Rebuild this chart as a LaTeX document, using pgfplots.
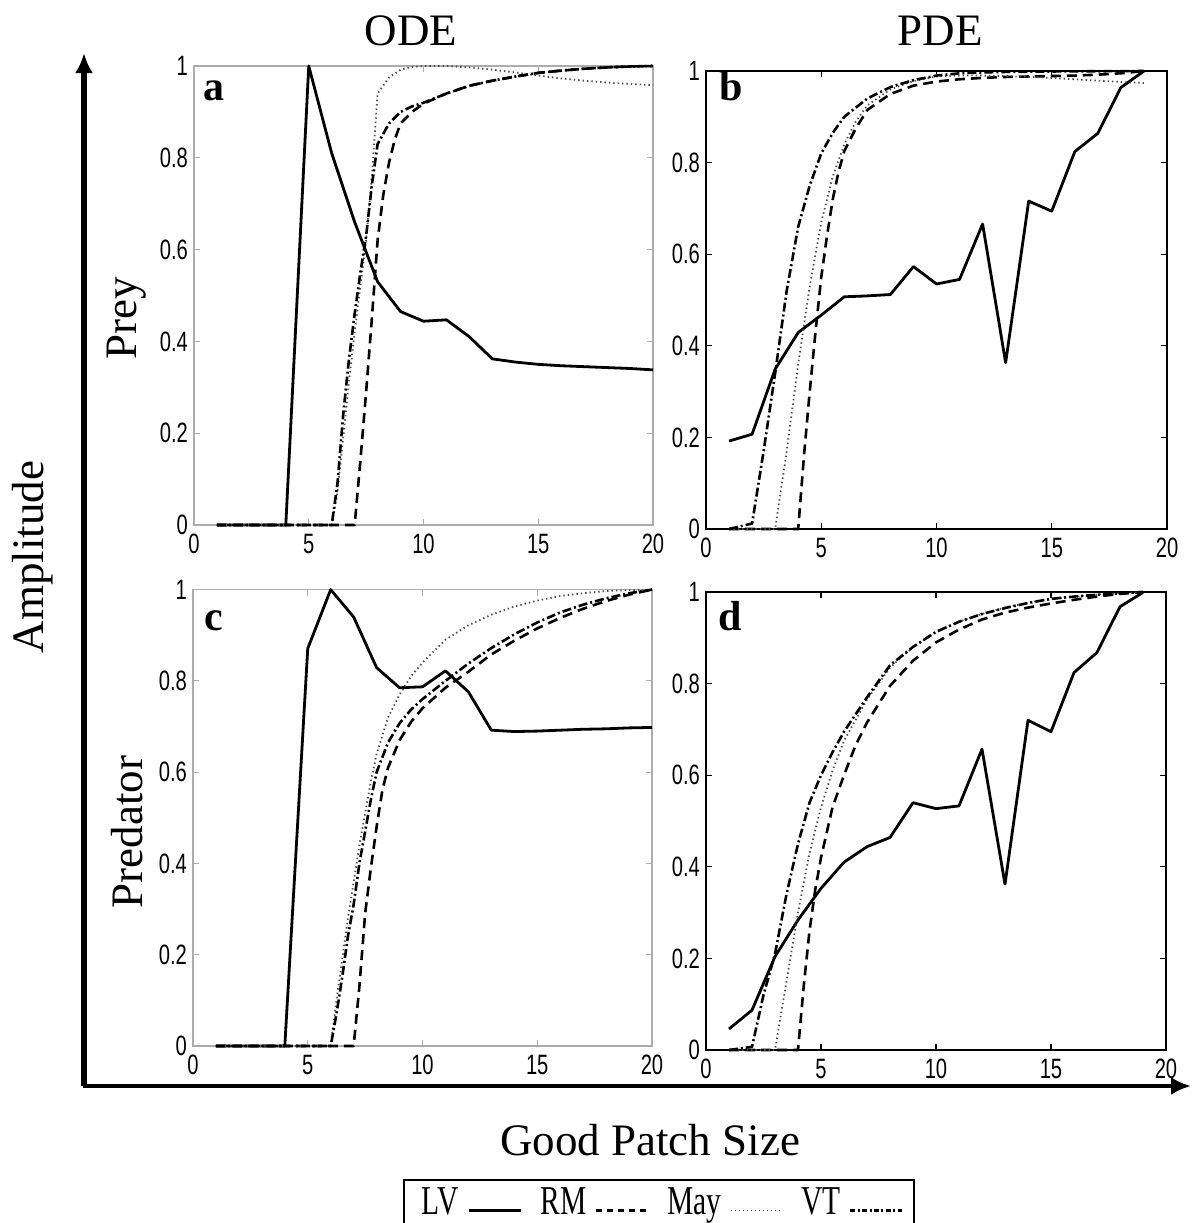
\documentclass[border=0pt]{standalone}
\usepackage{fontspec}
\setmainfont{Liberation Serif}
\newfontfamily\ticksfont[FakeStretch=0.72]{Liberation Sans}
\newfontfamily\legfont[FakeStretch=0.72]{Liberation Serif}
\usepackage{pgfplots}
\pgfplotsset{compat=1.18}
\usetikzlibrary{arrows.meta}

\pgfplotsset{
  panel/.style={
    scale only axis, xmin=0,xmax=20,ymin=0,ymax=1,
    xtick={0,5,10,15,20}, ytick={0,0.2,0.4,0.6,0.8,1},
    /pgf/number format/assume math mode=true,
    tick label style={font=\ticksfont\fontsize{14}{14}\selectfont},
    xticklabel style={yshift=-1pt},
    yticklabel style={xshift=0.5pt},
    major tick length=3pt,
    anchor=south west,
    clip=false,
    every axis plot/.append style={line join=round},
  },
  grayframe/.style={axis line style={draw=gray!65, line width=0.6pt}, every tick/.style={gray!65, line width=0.6pt}},
  blackframe/.style={axis line style={draw=black, line width=0.6pt}, every tick/.style={black, line width=0.6pt}},
  LV/.style={black, line width=1.4pt, solid},
  RM/.style={black, line width=1.3pt, dash pattern=on 5pt off 3pt},
  May/.style={gray!60!black, line width=0.9pt, dash pattern=on 0.7pt off 1.5pt},
  VT/.style={black, line width=1.3pt, dash pattern=on 4.5pt off 1.5pt on 1pt off 1.5pt},
}

\begin{document}
\begin{tikzpicture}
\begin{scope}[x=0.5pt,y=-0.5pt]
\useasboundingbox (0,0) rectangle (1192,1223);
\coordinate (A) at (194,525);
\coordinate (B) at (706,529);
\coordinate (C) at (193,1046);
\coordinate (D) at (706,1050);
\coordinate (L) at (659,1179);
\end{scope}

% ---------- panel a ----------
\begin{axis}[panel, grayframe, at={(A)}, width=229.5pt, height=229.5pt]
\addplot[LV] coordinates {(1,0)(2,0)(3,0)(4,0)(5,1)(6,0.81)(7,0.66)(8,0.53)(9,0.465)(10,0.444)(11,0.447)(12,0.41)(13,0.362)(14,0.355)(15,0.35)(16,0.347)(17,0.345)(18,0.343)(19,0.341)(20,0.338)};
\addplot[RM] coordinates {(1,0)(2,0)(3,0)(4,0)(5,0)(6,0)(7,0)(7.25,0.14)(7.5,0.29)(7.75,0.45)(8,0.62)(8.25,0.72)(8.5,0.79)(8.75,0.84)(9,0.875)(9.5,0.9)(10,0.918)(11,0.94)(12,0.957)(13,0.968)(14,0.977)(15,0.985)(16,0.99)(17,0.994)(18,0.997)(19,0.999)(20,1.0)};
\addplot[May] coordinates {(1,0)(2,0)(3,0)(4,0)(5,0)(6,0)(6.25,0.07)(6.5,0.19)(6.75,0.31)(7,0.42)(7.25,0.52)(7.5,0.62)(7.75,0.76)(8,0.94)(8.5,0.975)(9,0.992)(9.5,0.998)(10,1.0)(11,1.0)(12,0.997)(13,0.992)(14,0.986)(15,0.979)(16,0.973)(17,0.968)(18,0.964)(19,0.961)(20,0.958)};
\addplot[VT] coordinates {(1,0)(2,0)(3,0)(4,0)(5,0)(6,0)(6.25,0.09)(6.5,0.24)(6.75,0.36)(7,0.46)(7.25,0.55)(7.5,0.63)(7.75,0.74)(8,0.83)(8.5,0.875)(9,0.9)(9.5,0.912)(10,0.92)(11,0.94)(12,0.957)(13,0.968)(14,0.977)(15,0.985)(16,0.99)(17,0.994)(18,0.997)(19,0.999)(20,1.0)};
\end{axis}

% ---------- panel b ----------
\begin{axis}[panel, blackframe, at={(B)}, width=230.5pt, height=229pt]
\addplot[LV] coordinates {(1,0.192)(2,0.207)(3,0.349)(4,0.429)(5,0.467)(6,0.507)(7,0.509)(8,0.512)(9,0.573)(10,0.535)(11,0.545)(12,0.666)(13,0.363)(14,0.716)(15,0.694)(16,0.824)(17,0.864)(18,0.964)(19,1.0)};
\addplot[RM] coordinates {(1,0)(2,0)(3,0)(4,0)(4.25,0.16)(4.5,0.3)(4.75,0.43)(5,0.55)(5.25,0.64)(5.5,0.72)(5.75,0.78)(6,0.825)(6.5,0.875)(7,0.915)(8,0.95)(9,0.968)(10,0.977)(11,0.982)(12,0.985)(13,0.987)(14,0.988)(15,0.989)(16,0.99)(17,0.992)(18,0.995)(19,1.0)};
\addplot[May] coordinates {(1,0)(2,0)(3,0)(3.5,0.17)(4,0.36)(4.5,0.53)(5,0.67)(5.5,0.77)(6,0.84)(6.5,0.89)(7,0.925)(8,0.96)(9,0.978)(10,0.988)(11,0.99)(12,0.99)(13,0.989)(14,0.987)(15,0.985)(16,0.982)(17,0.979)(18,0.976)(19,0.974)};
\addplot[VT] coordinates {(1,0)(2,0.012)(2.5,0.17)(3,0.34)(3.5,0.52)(4,0.66)(4.5,0.75)(5,0.82)(5.5,0.865)(6,0.9)(7,0.94)(8,0.965)(9,0.98)(10,0.99)(11,0.995)(12,0.997)(13,0.998)(15,0.999)(19,1.0)};
\end{axis}

% ---------- panel c ----------
\begin{axis}[panel, grayframe, at={(C)}, width=229.5pt, height=228.2pt]
\addplot[LV] coordinates {(1,0)(2,0)(3,0)(4,0)(5,0.871)(6,1.0)(7,0.94)(8,0.829)(9,0.785)(10,0.787)(11,0.822)(12,0.776)(13,0.692)(14,0.689)(15,0.69)(16,0.692)(17,0.694)(18,0.695)(19,0.697)(20,0.698)};
\addplot[RM] coordinates {(1,0)(2,0)(3,0)(4,0)(5,0)(6,0)(7,0)(7.25,0.13)(7.5,0.29)(7.75,0.39)(8,0.48)(8.25,0.56)(8.5,0.61)(9,0.67)(9.5,0.71)(10,0.74)(11,0.785)(12,0.82)(13,0.858)(14,0.888)(15,0.915)(16,0.938)(17,0.958)(18,0.975)(19,0.989)(20,1.0)};
\addplot[May] coordinates {(1,0)(2,0)(3,0)(4,0)(5,0)(6,0)(6.25,0.1)(6.5,0.19)(6.75,0.28)(7,0.36)(7.25,0.44)(7.5,0.51)(7.75,0.58)(8,0.64)(8.5,0.72)(9,0.77)(9.5,0.81)(10,0.84)(11,0.89)(12,0.922)(13,0.945)(14,0.963)(15,0.976)(16,0.986)(17,0.992)(18,0.997)(19,0.999)(20,1.0)};
\addplot[VT] coordinates {(1,0)(2,0)(3,0)(4,0)(5,0)(6,0)(6.25,0.07)(6.5,0.15)(6.75,0.24)(7,0.31)(7.25,0.4)(7.5,0.47)(7.75,0.54)(8,0.6)(8.5,0.665)(9,0.707)(9.5,0.737)(10,0.76)(11,0.8)(12,0.838)(13,0.872)(14,0.902)(15,0.928)(16,0.95)(17,0.967)(18,0.981)(19,0.992)(20,1.0)};
\end{axis}

% ---------- panel d ----------
\begin{axis}[panel, blackframe, at={(D)}, width=230pt, height=229pt]
\addplot[LV] coordinates {(1,0.046)(2,0.087)(3,0.204)(4,0.284)(5,0.353)(6,0.41)(7,0.444)(8,0.464)(9,0.54)(10,0.527)(11,0.533)(12,0.657)(13,0.362)(14,0.72)(15,0.695)(16,0.824)(17,0.868)(18,0.968)(19,0.999)};
\addplot[RM] coordinates {(1,0)(2,0)(3,0)(4,0)(4.25,0.14)(4.5,0.26)(4.75,0.35)(5,0.42)(5.5,0.53)(6,0.6)(6.5,0.665)(7,0.715)(8,0.795)(9,0.85)(10,0.89)(11,0.918)(12,0.94)(13,0.955)(14,0.966)(15,0.975)(16,0.983)(17,0.99)(18,0.996)(19,1.0)};
\addplot[May] coordinates {(1,0)(2,0)(3,0)(3.5,0.15)(4,0.3)(4.5,0.43)(5,0.53)(5.5,0.61)(6,0.675)(7,0.765)(8,0.835)(9,0.88)(10,0.912)(11,0.935)(12,0.952)(13,0.966)(14,0.977)(15,0.985)(16,0.99)(17,0.994)(18,0.997)(19,1.0)};
\addplot[VT] coordinates {(1,0)(2,0.007)(2.5,0.12)(3,0.21)(3.5,0.34)(4,0.45)(4.5,0.54)(5,0.6)(5.5,0.65)(6,0.695)(7,0.77)(8,0.84)(9,0.88)(10,0.913)(11,0.935)(12,0.952)(13,0.965)(14,0.976)(15,0.985)(16,0.99)(17,0.994)(18,0.997)(19,1.0)};
\end{axis}

% ---------- legend (kept out of the bounding box, cut at the page edge) ----------
\begin{pgfinterruptboundingbox}
\begin{axis}[at={(L)}, anchor=center, hide axis, scale only axis, width=1pt, height=1pt,
  xmin=0,xmax=1,ymin=0,ymax=1,
  legend columns=4, legend plot pos=right,
  legend image code/.code={\draw[#1] (0pt,0pt) -- (26pt,0pt);},
  legend style={at={(0.5,0.5)}, anchor=north, draw=black, line width=1pt,
    font=\legfont\fontsize{20.5}{20.5}\selectfont, inner xsep=5pt, inner ysep=2pt,
    nodes={text depth=9pt, inner xsep=4pt},
    /tikz/every even column/.append style={column sep=5pt}}]
\addlegendimage{LV, line width=1.9pt}
\addlegendentry{LV}
\addlegendimage{RM, line width=1.6pt, dash pattern=on 3pt off 2.5pt}
\addlegendentry{RM}
\addlegendimage{May, line width=0.9pt, dash pattern=on 0.6pt off 1.4pt}
\addlegendentry{May}
\addlegendimage{VT, line width=1.6pt, dash pattern=on 2.5pt off 1.2pt on 1pt off 1.2pt}
\addlegendentry{VT}
\end{axis}
\end{pgfinterruptboundingbox}

\begin{scope}[x=0.5pt,y=-0.5pt]
% big axes arrows
\draw[line width=2.6pt, -{Latex[length=10pt,width=9pt]}] (84,1086) -- (84,53);
\draw[line width=2.4pt, -{Latex[length=10pt,width=9pt]}] (82.7,1086) -- (1191,1086);
% panel letters
\node[anchor=base west, inner sep=0pt, font=\bfseries\fontsize{21}{21}\selectfont] at (203,100) {a};
\node[anchor=base west, inner sep=0pt, font=\bfseries\fontsize{21}{21}\selectfont] at (719,100) {b};
\node[anchor=base west, inner sep=0pt, font=\bfseries\fontsize{21}{21}\selectfont] at (204,630) {c};
\node[anchor=base west, inner sep=0pt, font=\bfseries\fontsize{21}{21}\selectfont] at (718,630) {d};
% titles and labels
\node[anchor=base, inner sep=0pt, font=\fontsize{22.5}{22.5}\selectfont] at (411,45) {ODE};
\node[anchor=base, inner sep=0pt, font=\fontsize{22.5}{22.5}\selectfont] at (940,45) {PDE};
\node[rotate=90, inner sep=0pt, font=\fontsize{22.5}{22.5}\selectfont] at (33,557) {Amplitude};
\node[rotate=90, inner sep=0pt, font=\fontsize{22.5}{22.5}\selectfont] at (127,318) {Prey};
\node[rotate=90, inner sep=0pt, font=\fontsize{22.5}{22.5}\selectfont] at (127,832) {Predator};
\node[inner sep=0pt, font=\fontsize{22.5}{22.5}\selectfont] at (650,1140) {Good Patch Size};
\end{scope}
\end{tikzpicture}
\end{document}
